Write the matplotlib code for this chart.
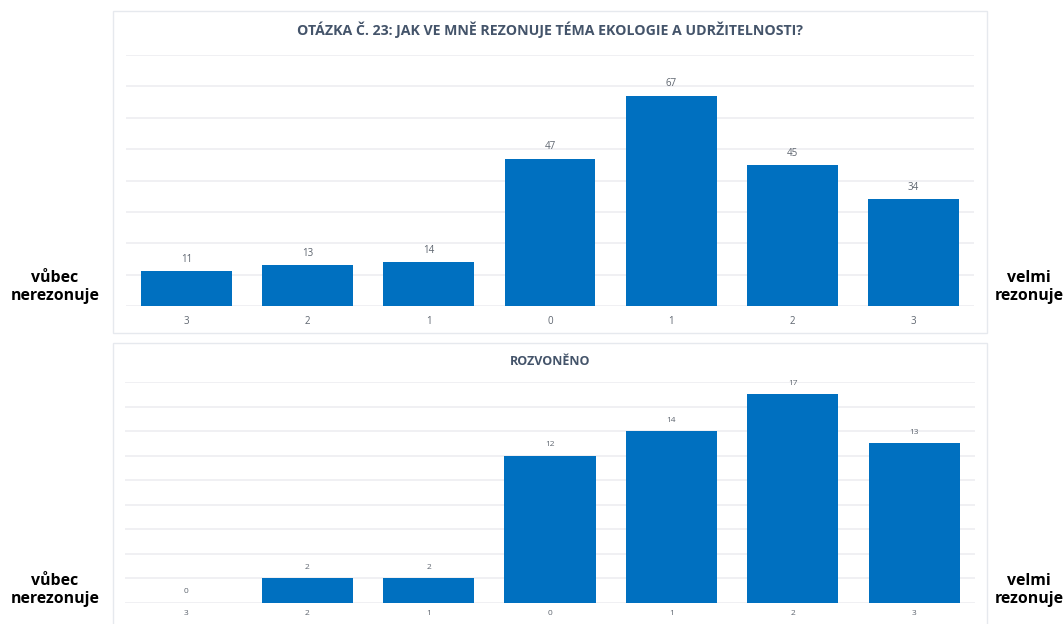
import matplotlib
matplotlib.use("Agg")
import matplotlib.pyplot as plt
from matplotlib.patches import Rectangle

categories = ["3", "2", "1", "0", "1", "2", "3"]
values_top = [11, 13, 14, 47, 67, 45, 34]
values_bottom = [0, 2, 2, 12, 14, 17, 13]
title_top = "OTÁZKA Č. 23: JAK VE MNĚ REZONUJE TÉMA EKOLOGIE A UDRŽITELNOSTI?"
title_bottom = "ROZVONĚNO"
left_label = "vůbec\nnerezonuje"
right_label = "velmi\nrezonuje"

plt.rcParams['font.family'] = ['Open Sans', 'DejaVu Sans']

W, H = 1064, 624
fig = plt.figure(figsize=(W / 100, H / 100), dpi=100)
fig.patch.set_facecolor("white")

def fx(px):
    return px / W

def fy(py):
    return 1 - py / H

BAR = "#0070C0"
GRID = "#EDEEF1"
BORDER = "#E6E9EE"
TXT = "#5F6670"
TITLE = "#44546A"

# panel frames
for (y0, y1) in [(11, 333), (343, 640)]:
    fig.patches.append(Rectangle((fx(113), fy(y1)), fx(987) - fx(113), fy(y0) - fy(y1),
                                 transform=fig.transFigure, facecolor="none",
                                 edgecolor=BORDER, linewidth=1.0, zorder=-1))

def draw(ax, vals, ymax, step, label_off, tick_pad, fs):
    x = range(len(vals))
    ax.bar(x, vals, width=0.75, color=BAR, zorder=3)
    ax.set_xlim(-0.5, len(vals) - 0.5)
    ax.set_ylim(0, ymax)
    ax.set_yticks(range(0, ymax + 1, step))
    ax.yaxis.grid(True, color=GRID, linewidth=1.2, zorder=0)
    ax.set_axisbelow(True)
    ax.tick_params(axis='y', left=False, labelleft=False)
    ax.set_xticks(list(x))
    ax.set_xticklabels(categories, fontsize=fs, color=TXT)
    ax.tick_params(axis='x', length=0, pad=tick_pad)
    for s in ax.spines.values():
        s.set_visible(False)
    ax.patch.set_alpha(0)
    for i, v in enumerate(vals):
        ax.annotate(str(v), (i, v), xytext=(0, label_off), textcoords="offset points",
                    ha="center", va="center", fontsize=fs, color=TXT)

ax1 = fig.add_axes([fx(126), fy(306), fx(974) - fx(126), fy(55) - fy(306)])
draw(ax1, values_top, 80, 10, 8.5, 7, 7)
ax2 = fig.add_axes([fx(125), fy(603), fx(975) - fx(125), fy(382) - fy(603)])
draw(ax2, values_bottom, 18, 2, 8, 5, 6)

fig.text(fx(550), fy(30), title_top, ha="center", va="center", fontsize=10.2,
         fontweight="bold", color=TITLE)
fig.text(fx(550), fy(361), title_bottom, ha="center", va="center", fontsize=9,
         fontweight="bold", color=TITLE)

for yc in (287, 590):
    fig.text(fx(55), fy(yc), left_label, ha="center", va="center", fontsize=11.4,
             fontweight="bold", color="black", linespacing=1.2)
    fig.text(fx(1029), fy(yc), right_label, ha="center", va="center", fontsize=11.4,
             fontweight="bold", color="black", linespacing=1.2)

fig.savefig("out.png", dpi=100, facecolor="white")
